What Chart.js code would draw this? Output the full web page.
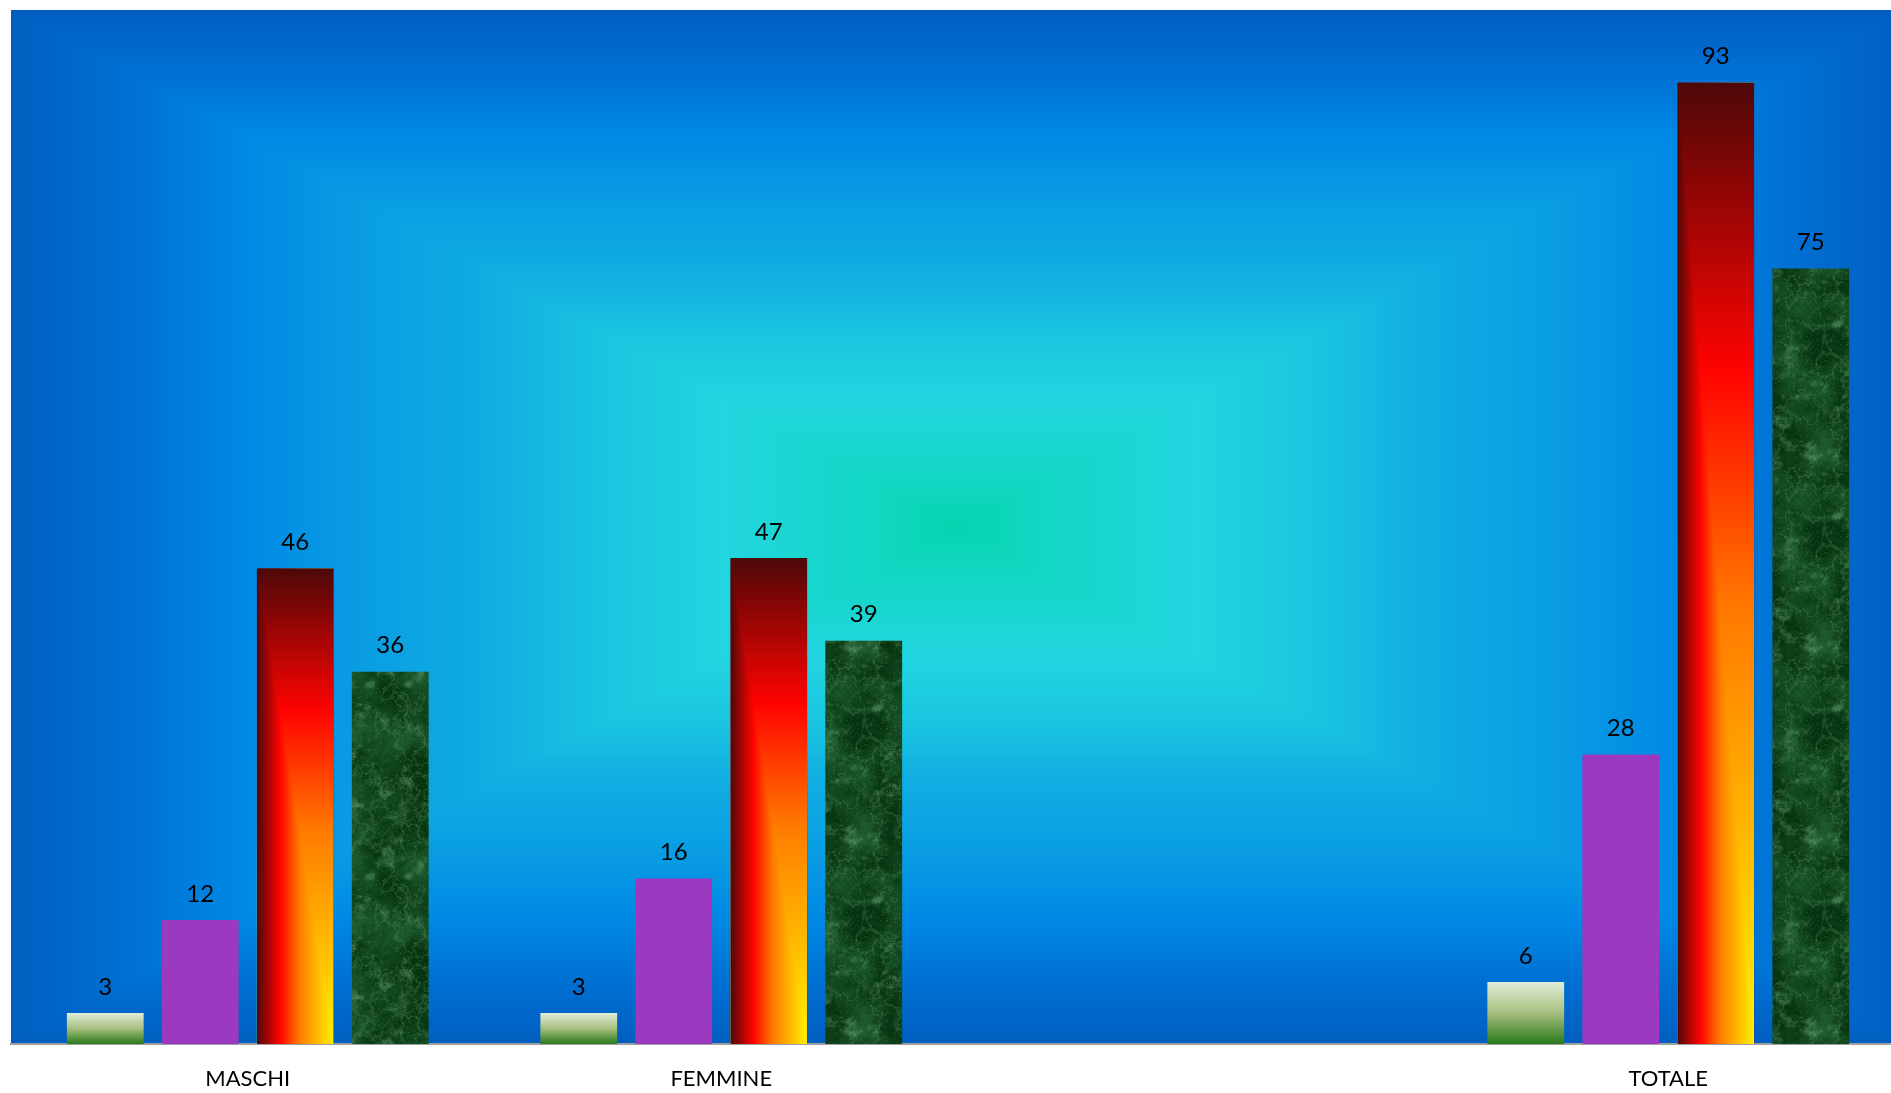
<!DOCTYPE html>
<html>
<head>
<meta charset="utf-8">
<script src="https://cdn.jsdelivr.net/npm/chart.js@4.4.1/dist/chart.umd.min.js"></script>
<style>
html,body{margin:0;padding:0;background:#ffffff;overflow:hidden}
#wrap{width:1891px;height:1093px;overflow:hidden;position:relative;background:#fff}
canvas{display:block}
</style>
</head>
<body>
<div id="wrap"><canvas id="c" width="1905" height="1093"></canvas></div>
<script>
// ---- data ----
const categories = ['MASCHI', 'FEMMINE', '', 'TOTALE'];
const seriesNames = ['Serie 1', 'Serie 2', 'Serie 3', 'Serie 4'];
const serie1 = [3, 3, null, 6];
const serie2 = [12, 16, null, 28];
const serie3 = [46, 47, null, 93];
const serie4 = [36, 39, null, 75];
const yMin = 0;
const yMax = 100;

// ---- helpers ----
function lerp(a, b, t) { return a + (b - a) * t; }
function interpStops(stops, t) {
  if (t <= stops[0][0]) return stops[0][1];
  for (let i = 1; i < stops.length; i++) {
    if (t <= stops[i][0]) {
      const p = stops[i - 1], q = stops[i];
      const k = (t - p[0]) / (q[0] - p[0]);
      return [lerp(p[1][0], q[1][0], k), lerp(p[1][1], q[1][1], k), lerp(p[1][2], q[1][2], k)];
    }
  }
  return stops[stops.length - 1][1];
}

// plot area background: rectangular path gradient from centre
const bgStops = [
  [0.00, [5, 212, 176]],
  [0.10, [20, 215, 198]],
  [0.25, [34, 213, 224]],
  [0.38, [26, 196, 224]],
  [0.50, [16, 172, 226]],
  [0.62, [10, 158, 227]],
  [0.70, [4, 146, 228]],
  [0.76, [0, 136, 228]],
  [0.88, [0, 112, 210]],
  [1.00, [0, 94, 192]]
];
let bgCanvas = null;
function buildBg(w, h) {
  const cv = document.createElement('canvas');
  cv.width = w; cv.height = h;
  const cx = cv.getContext('2d');
  const img = cx.createImageData(w, h);
  const hx = w / 2, hy = h / 2;
  for (let y = 0; y < h; y++) {
    const ty = Math.abs(y + 0.5 - hy) / hy;
    for (let x = 0; x < w; x++) {
      const tx = Math.abs(x + 0.5 - hx) / hx;
      const c = interpStops(bgStops, Math.max(tx, ty));
      const o = (y * w + x) * 4;
      img.data[o] = c[0]; img.data[o + 1] = c[1]; img.data[o + 2] = c[2]; img.data[o + 3] = 255;
    }
  }
  cx.putImageData(img, 0, 0);
  return cv;
}
const bgPlugin = {
  id: 'plotBg',
  beforeDraw(chart) {
    const a = chart.chartArea;
    const w = Math.round(a.right - a.left), h = Math.round(a.bottom - a.top);
    if (!bgCanvas || bgCanvas.width !== w || bgCanvas.height !== h) bgCanvas = buildBg(w, h);
    chart.ctx.drawImage(bgCanvas, a.left, a.top);
  }
};

// "Fire" gradient from bottom-right corner (rectangular path)
const fireStops = [
  [0.00, [255, 242, 0]],
  [0.45, [255, 122, 0]],
  [0.70, [255, 3, 0]],
  [1.00, [77, 8, 8]]
];
const FW = 100, FH = 1000;
const fireCanvas = (function () {
  const cv = document.createElement('canvas');
  cv.width = FW; cv.height = FH;
  const cx = cv.getContext('2d');
  const img = cx.createImageData(FW, FH);
  for (let y = 0; y < FH; y++) {
    const ty = 1 - (y + 0.5) / FH;
    for (let x = 0; x < FW; x++) {
      const tx = 1 - (x + 0.5) / FW;
      const c = interpStops(fireStops, Math.max(tx, ty));
      const o = (y * FW + x) * 4;
      img.data[o] = c[0]; img.data[o + 1] = c[1]; img.data[o + 2] = c[2]; img.data[o + 3] = 255;
    }
  }
  cx.putImageData(img, 0, 0);
  return cv;
})();
const firePatterns = {};

// green marble texture tile (deterministic hash noise)
function hash(ix, iy, seed) {
  let h = (Math.imul(ix, 374761393) + Math.imul(iy, 668265263) + Math.imul(seed, 982451653)) | 0;
  h = Math.imul(h ^ (h >>> 13), 1274126177);
  h = h ^ (h >>> 16);
  return (h >>> 0) / 4294967295;
}
function vnoise(u, v, period, seed) {
  const fx = u * period, fy = v * period;
  const x0 = Math.floor(fx), y0 = Math.floor(fy);
  const sx = fx - x0, sy = fy - y0;
  const ax = ((x0 % period) + period) % period, ay = ((y0 % period) + period) % period;
  const bx = (ax + 1) % period, by = (ay + 1) % period;
  const s = sx * sx * (3 - 2 * sx), t = sy * sy * (3 - 2 * sy);
  const a = hash(ax, ay, seed), b = hash(bx, ay, seed), c = hash(ax, by, seed), d = hash(bx, by, seed);
  return lerp(lerp(a, b, s), lerp(c, d, s), t);
}
function fbm(u, v, seed, base) {
  let sum = 0, amp = 1, tot = 0, p = base;
  for (let o = 0; o < 5; o++) {
    sum += amp * vnoise(u, v, p, seed + o * 17);
    tot += amp; amp *= 0.6; p *= 2;
  }
  return sum / tot;
}
function clamp01(v) { return Math.min(1, Math.max(0, v)); }
const TS = 192;
const marbleCanvas = (function () {
  const cv = document.createElement('canvas');
  cv.width = TS; cv.height = TS;
  const cx = cv.getContext('2d');
  const img = cx.createImageData(TS, TS);
  const dark = [6, 52, 16], mid = [28, 88, 44], light = [100, 160, 112];
  for (let y = 0; y < TS; y++) {
    for (let x = 0; x < TS; x++) {
      const u = x / TS, v = y / TS;
      const n1 = fbm(u, v, 3, 6);
      const n2 = fbm(u, v, 11, 8);
      const n3 = fbm(u, v, 21, 16);
      let vein = Math.max(0, 1 - Math.abs(n2 - 0.5) * 16);
      vein = vein * vein;
      const spots = clamp01((n3 - 0.56) * 4);
      const speck = hash(x, y, 99) > 0.88 ? hash(x, y, 5) * 0.3 : 0;
      const k = clamp01((n1 - 0.32) * 2.4);
      let c = [lerp(dark[0], mid[0], k), lerp(dark[1], mid[1], k), lerp(dark[2], mid[2], k)];
      const l = Math.min(0.7, spots * 0.45 + vein * 0.3 + speck);
      c = [lerp(c[0], light[0], l), lerp(c[1], light[1], l), lerp(c[2], light[2], l)];
      const o = (y * TS + x) * 4;
      img.data[o] = c[0]; img.data[o + 1] = c[1]; img.data[o + 2] = c[2]; img.data[o + 3] = 255;
    }
  }
  cx.putImageData(img, 0, 0);
  return cv;
})();
let marblePattern = null;

// light green vertical gradient per bar
function greenGradient(c) {
  const chart = c.chart;
  if (c.type !== 'data' || c.raw == null || !chart.chartArea) return '#a6bf7e';
  const ys = chart.scales.y;
  const top = ys.getPixelForValue(c.raw), base = ys.getPixelForValue(0);
  const g = chart.ctx.createLinearGradient(0, top, 0, base);
  g.addColorStop(0, '#e2eed8');
  g.addColorStop(0.5, '#a6bf7e');
  g.addColorStop(1, '#2a7a1c');
  return g;
}
function fireFill(c) {
  if (c.type !== 'data') return '#ff0300';
  const i = c.dataIndex;
  if (!firePatterns[i]) firePatterns[i] = c.chart.ctx.createPattern(fireCanvas, 'repeat');
  return firePatterns[i];
}
function marbleFill(c) {
  if (!marblePattern) marblePattern = c.chart.ctx.createPattern(marbleCanvas, 'repeat');
  return marblePattern;
}

// align fire patterns to the library-computed bar rectangles
const fireAlign = {
  id: 'fireAlign',
  beforeDatasetsDraw(chart) {
    const meta = chart.getDatasetMeta(2);
    meta.data.forEach((el, i) => {
      const p = firePatterns[i];
      if (!p || el.y == null) return;
      const left = el.x - el.width / 2;
      const top = Math.min(el.y, el.base);
      const h = Math.abs(el.base - el.y) || 1;
      p.setTransform(new DOMMatrix().translate(left, top).scale(el.width / FW, h / FH));
    });
  }
};

// value labels above bars
const valueLabels = {
  id: 'valueLabels',
  afterDatasetsDraw(chart) {
    const ctx = chart.ctx;
    ctx.save();
    ctx.font = '24px Lato, "Open Sans", sans-serif';
    ctx.fillStyle = '#000000';
    ctx.textAlign = 'center';
    ctx.textBaseline = 'middle';
    chart.data.datasets.forEach((ds, di) => {
      chart.getDatasetMeta(di).data.forEach((el, i) => {
        const v = ds.data[i];
        if (v == null) return;
        ctx.fillText(String(v), el.x, el.y - 26);
      });
    });
    ctx.restore();
  }
};

Chart.defaults.font.family = 'Lato, "Open Sans", sans-serif';

new Chart(document.getElementById('c'), {
  type: 'bar',
  data: {
    labels: categories,
    datasets: [
      { label: seriesNames[0], data: serie1, backgroundColor: greenGradient, borderWidth: 0 },
      { label: seriesNames[1], data: serie2, backgroundColor: '#9b3ac0', borderWidth: 0 },
      { label: seriesNames[2], data: serie3, backgroundColor: fireFill, borderWidth: 0 },
      { label: seriesNames[3], data: serie4, backgroundColor: marbleFill, borderWidth: 0 }
    ]
  },
  options: {
    responsive: false,
    animation: false,
    events: [],
    categoryPercentage: 0.8025,
    barPercentage: 0.808,
    layout: { padding: { left: 11, top: 10, right: 0, bottom: 0 } },
    plugins: {
      legend: { display: false },
      tooltip: { enabled: false },
      title: { display: false }
    },
    scales: {
      x: {
        grid: { display: false, drawTicks: false },
        border: { display: true, color: '#a0a0a0', width: 2 },
        ticks: { color: '#000000', font: { size: 22 }, padding: 22, maxRotation: 0, autoSkip: false },
        afterFit(scale) { scale.height = 49; }
      },
      y: {
        display: false,
        min: yMin,
        max: yMax
      }
    }
  },
  plugins: [bgPlugin, fireAlign, valueLabels]
});
</script>
</body>
</html>
